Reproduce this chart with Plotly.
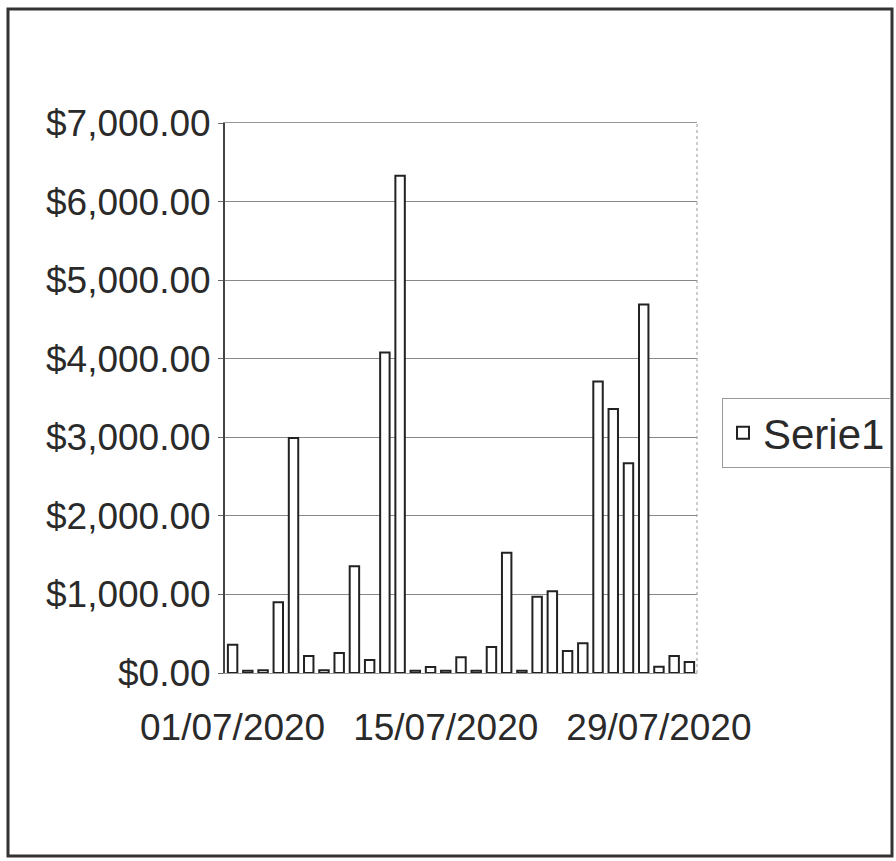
import plotly.graph_objects as go

dates = [f"{d:02d}/07/2020" for d in range(1, 32)]
values = [360, 30, 35, 900, 2990, 215, 35, 255, 1360, 165, 4080, 6330, 30, 75, 30,
          200, 30, 330, 1530, 30, 970, 1040, 280, 380, 3710, 3360, 2670, 4690, 80, 215, 140]
tick_labels = ["01/07/2020", "15/07/2020", "29/07/2020"]
series_name = "Serie1"

FONT = "Liberation Sans, Arial, sans-serif"

L, R, T, B = 225, 199, 123, 188
PW, PH = 896 - L - R, 861 - T - B

fig = go.Figure()
fig.add_trace(go.Bar(
    x=dates, y=values, name=series_name,
    marker=dict(color="white", line=dict(color="#222", width=2)),
    showlegend=True,
))

fig.update_layout(
    width=896, height=861,
    margin=dict(l=L, r=R, t=T, b=B, autoexpand=False),
    paper_bgcolor="white", plot_bgcolor="white",
    bargap=0.38,
    font=dict(family=FONT, color="#2a2a2a", size=37),
    xaxis=dict(
        type="category", tickmode="array", tickvals=tick_labels, ticktext=tick_labels,
        showgrid=False, ticks="", showline=True, linecolor="#999", linewidth=1,
        mirror=True, tickfont=dict(size=37), tickangle=0, automargin=False,
        ticklabelstandoff=22,
    ),
    yaxis=dict(
        range=[0, 7000], dtick=1000, tickformat="$,.2f",
        showgrid=True, gridcolor="#888", gridwidth=1,
        showline=True, linecolor="#444", linewidth=2, mirror=False,
        ticks="outside", ticklen=5, tickcolor="#666",
        tickfont=dict(size=37), zeroline=False, automargin=False,
        ticklabelstandoff=0,
    ),
    legend=dict(
        x=(722 - L) / PW, y=(861 - B - 433) / PH, xanchor="left", yanchor="middle",
        bordercolor="#999", borderwidth=1, bgcolor="white",
        font=dict(size=42), itemwidth=30, tracegroupgap=0,
    ),
    shapes=[
        dict(type="line", xref="paper", yref="paper", x0=1, x1=1, y0=0, y1=1,
             line=dict(color="#999", width=1, dash="dot")),
        dict(type="rect", xref="paper", yref="paper",
             x0=(8 - L) / PW, x1=(892 - L) / PW,
             y0=(861 - B - 856) / PH, y1=(861 - B - 9) / PH,
             line=dict(color="#333", width=3)),
    ],
)

fig.write_html("out.html", config={"displayModeBar": False},
               post_script="document.body.style.margin='0';document.body.style.overflow='hidden';")
